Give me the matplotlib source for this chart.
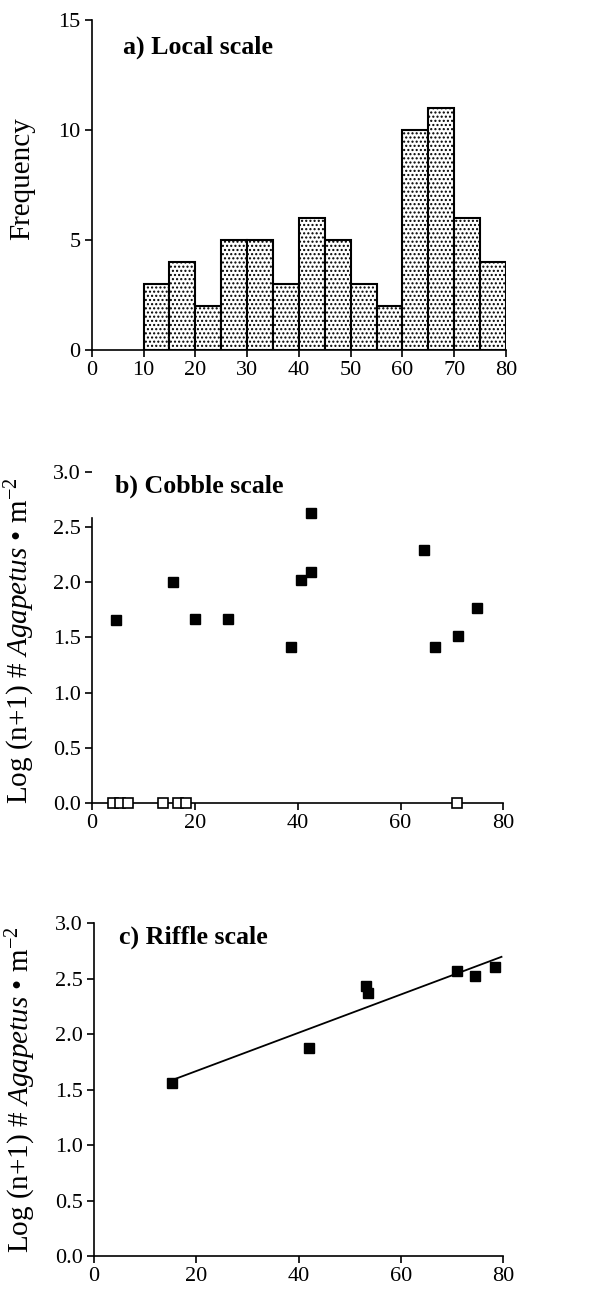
import numpy as np
import matplotlib
matplotlib.use("Agg")
import matplotlib.pyplot as plt

plt.rcParams["font.family"] = ["Liberation Serif", "DejaVu Serif"]
plt.rcParams["mathtext.fontset"] = "custom"
plt.rcParams["mathtext.rm"] = "Liberation Serif"
plt.rcParams["mathtext.it"] = "Liberation Serif:italic"
plt.rcParams["hatch.linewidth"] = 1.0

# a) Local scale histogram (bins of 5, from 10 to 80)
bin_edges = [10, 15, 20, 25, 30, 35, 40, 45, 50, 55, 60, 65, 70, 75, 80]
bin_counts = [3, 4, 2, 5, 5, 3, 6, 5, 3, 2, 10, 11, 6, 4]

# b) Cobble scale
cobble_x = [4.7, 15.8, 20.0, 26.5, 38.6, 40.6, 42.5, 42.5, 64.6, 66.7, 71.1, 74.8]
cobble_y = [1.66, 2.00, 1.67, 1.67, 1.41, 2.02, 2.63, 2.09, 2.29, 1.41, 1.51, 1.77]
cobble_zero_x = [4.0, 5.5, 7.0, 13.8, 16.7, 18.2, 71.0]
cobble_zero_y = [0, 0, 0, 0, 0, 0, 0]

# c) Riffle scale
riffle_x = [15.2, 42.1, 53.1, 53.5, 70.9, 74.5, 78.4]
riffle_y = [1.56, 1.875, 2.44, 2.37, 2.57, 2.53, 2.61]
fit_range = [15.2, 79.7]

ylab = r"Log (n+1) # $\mathit{Agapetus}$ • m$^{-2}$"
tick_fs = 16
title_fs = 18.7
label_fs = 21

fig = plt.figure(figsize=(5.96, 12.89), dpi=100)


def style_axes(ax):
    ax.spines["top"].set_visible(False)
    ax.spines["right"].set_visible(False)
    ax.spines["left"].set_linewidth(1.2)
    ax.spines["bottom"].set_linewidth(1.2)
    ax.tick_params(direction="out", length=5, width=1.2, labelsize=tick_fs, pad=3)


def put_ylabel(ax, text, x, y=0.5):
    ax.set_ylabel(text, fontsize=label_fs, va="center")
    ax.yaxis.set_label_coords(x, y)


# panel a
ax1 = fig.add_axes([0.154, 0.7285, 0.695, 0.256])
widths = np.diff(bin_edges)
ax1.bar(bin_edges[:-1], bin_counts, width=widths, align="edge",
        facecolor="white", edgecolor="black", linewidth=1.5, hatch="....")
ax1.set_xlim(0, 80)
ax1.set_ylim(0, 15)
ax1.set_xticks(range(0, 81, 10))
ax1.set_yticks([0, 5, 10, 15])
style_axes(ax1)
put_ylabel(ax1, "Frequency", -0.167, 0.52)
ax1.text(0.075, 0.918, "a) Local scale", transform=ax1.transAxes,
         fontsize=title_fs, fontweight="bold", va="center")

# panel b
ax2 = fig.add_axes([0.1545, 0.377, 0.69, 0.257])
ax2.plot(cobble_x, cobble_y, "s", color="black", markersize=7.5)
ax2.plot(cobble_zero_x, cobble_zero_y, "s", markerfacecolor="white",
         markeredgecolor="black", markeredgewidth=1.2, markersize=7.5, clip_on=False, zorder=5)
ax2.set_xlim(0, 80)
ax2.set_ylim(0, 3.0)
ax2.set_xticks([0, 20, 40, 60, 80])
ax2.set_yticks(np.arange(0, 3.01, 0.5))
ax2.set_yticklabels(["0.0", "0.5", "1.0", "1.5", "2.0", "2.5", "3.0"])
style_axes(ax2)
ax2.spines["left"].set_bounds(0, 2.58)
put_ylabel(ax2, ylab, -0.175, 0.49)
ax2.text(0.056, 0.955, "b) Cobble scale", transform=ax2.transAxes,
         fontsize=title_fs, fontweight="bold", va="center")

# panel c
ax3 = fig.add_axes([0.158, 0.0256, 0.686, 0.258])
slope, intercept = np.polyfit(riffle_x, riffle_y, 1)
fx = np.array(fit_range)
ax3.plot(fx, slope * fx + intercept, color="black", linewidth=1.3)
ax3.plot(riffle_x, riffle_y, "s", color="black", markersize=7.5)
ax3.set_xlim(0, 80)
ax3.set_ylim(0, 3.0)
ax3.set_xticks([0, 20, 40, 60, 80])
ax3.set_yticks(np.arange(0, 3.01, 0.5))
ax3.set_yticklabels(["0.0", "0.5", "1.0", "1.5", "2.0", "2.5", "3.0"])
style_axes(ax3)
put_ylabel(ax3, ylab, -0.18, 0.5)
ax3.text(0.061, 0.958, "c) Riffle scale", transform=ax3.transAxes,
         fontsize=title_fs, fontweight="bold", va="center")

fig.savefig("out.png", dpi=100)
